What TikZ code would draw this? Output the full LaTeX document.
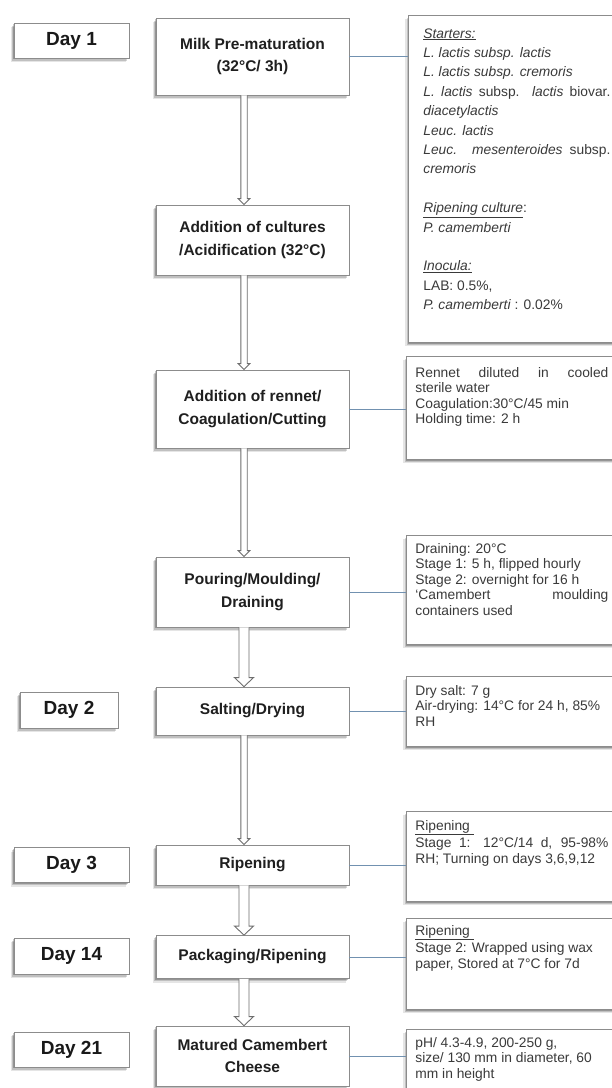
\documentclass[tikz,border=0pt]{standalone}
\usepackage{fontspec}
\setmainfont{Liberation Sans}
\usetikzlibrary{calc,shadows}

\definecolor{framegray}{HTML}{8C8C8C}
\definecolor{linkblue}{HTML}{7191B0}
\definecolor{notegray}{HTML}{3A3A3A}
\definecolor{arrowgray}{HTML}{6E6E6E}

% a line stretched to the full text width (justified line)
\newcommand{\jline}[1]{\makebox[\linewidth][s]{#1}}
% note text: box height, text width, top padding, lines
\newcommand{\notebody}[4]{\parbox[c][#1pt][t]{#2pt}{\vspace*{#3pt}#4}}
% x position of the hollow flow arrows
\def\arrowx{244pt}
% hollow arrow: from, to, half shaft width, head overhang, head length
\newcommand{\flowarrow}[5]{%
  \draw[arrowline] let \p1=(#1.south), \p2=(#2.north) in
    (\arrowx-#3,\y1) -- (\arrowx-#3,\y2+#5) -- (\arrowx-#3-#4,\y2+#5) -- (\arrowx,\y2)
    -- (\arrowx+#3+#4,\y2+#5) -- (\arrowx+#3,\y2+#5) -- (\arrowx+#3,\y1);}

\begin{document}
\begin{tikzpicture}[x=1pt,y=-1pt,
  softshadow/.style={
    general shadow={fill=black,opacity=.10,shadow xshift=-3pt,shadow yshift=-4pt},
    general shadow={fill=black,opacity=.16,shadow xshift=-1.8pt,shadow yshift=-2.7pt},
    general shadow={fill=black,opacity=.22,shadow xshift=-.8pt,shadow yshift=-1.4pt}},
  stepbox/.style={draw=framegray,line width=.8pt,fill=white,softshadow,
    text=black!88,font=\bfseries\fontsize{15.5}{22.5}\selectfont,align=center,
    minimum width=193pt,inner sep=2pt},
  daybox/.style={draw=framegray,line width=.8pt,fill=white,softshadow,
    text=black!90,font=\bfseries\fontsize{19}{22}\selectfont,
    minimum width=115pt,inner sep=2pt},
  notebox/.style={draw=framegray,line width=.8pt,fill=white,softshadow,
    anchor=north west,inner xsep=9pt,inner ysep=0pt,text=notegray,
    font=\fontsize{13.8}{15.5}\selectfont,align=left},
  connector/.style={draw=linkblue,line width=.9pt},
  arrowline/.style={draw=arrowgray,line width=.9pt,fill=white}]

\useasboundingbox (0,0) rectangle (612,1088);
\fill[white] (0,0) rectangle (612,1088);
\clip (0,0) rectangle (612,1088);

% day markers
\node[daybox,minimum height=35pt] (d1) at (71.5,40.5) {Day 1};
\node[daybox,minimum height=36pt,minimum width=98pt] (d2) at (69,710) {Day 2};
\node[daybox,minimum height=35pt] (d3) at (71.5,865) {Day 3};
\node[daybox,minimum height=36pt] (d14) at (71.5,956) {Day 14};
\node[daybox,minimum height=35pt] (d21) at (71.5,1049.5) {Day 21};

% process steps
\node[stepbox,minimum height=77pt] (milk) at (252.5,56.5) {Milk Pre-maturation\\(32°C/ 3h)};
\node[stepbox,minimum height=70pt] (cult) at (252.5,240) {Addition of cultures\\/Acidification (32°C)};
\node[stepbox,minimum height=78pt] (rennet) at (252.5,409) {Addition of rennet/\\Coagulation/Cutting};
\node[stepbox,minimum height=70pt] (pour) at (252.5,592) {Pouring/Moulding/\\Draining};
\node[stepbox,minimum height=48pt] (salt) at (252.5,711) {Salting/Drying};
\node[stepbox,minimum height=40pt] (ripe) at (252.5,865) {Ripening};
\node[stepbox,minimum height=43pt] (pack) at (252.5,957) {Packaging/Ripening};
\node[stepbox,minimum height=60pt] (cheese) at (252.5,1056) {Matured Camembert\\Cheese};

% notes
\node[notebox,inner xsep=15pt,font=\fontsize{13.8}{19.4}\selectfont] (n1) at (408,15) {\notebody{327}{187}{13}{%
\underline{\textit{Starters:}}\\
\textit{L. lactis subsp. lactis}\\
\textit{L. lactis subsp. cremoris}\\
\jline{\textit{L. lactis} subsp. \textit{lactis} biovar.}\\
\textit{diacetylactis}\\
\textit{Leuc. lactis}\\
\jline{\textit{Leuc. mesenteroides} subsp.}\\
\textit{cremoris}\\[19.4pt]
\underline{\textit{Ripening culture}}:\\
\textit{P. camemberti}\\[19.4pt]
\underline{\textit{Inocula:}}\\
LAB: 0.5\%,\\
\textit{P. camemberti} : 0.02\%}};

\node[notebox] (n2) at (406,356) {\notebody{103}{193}{11}{%
\jline{Rennet diluted in cooled}\\
sterile water\\
Coagulation:30°C/45 min\\
Holding time: 2 h}};

\node[notebox] (n3) at (406,535) {\notebody{109}{193}{8}{%
Draining: 20°C\\
Stage 1: 5 h, flipped hourly\\
Stage 2: overnight for 16 h\\
\jline{‘Camembert moulding}\\
containers used}};

\node[notebox] (n4) at (406,676) {\notebody{70}{193}{9}{%
Dry salt: 7 g\\
Air-drying: 14°C for 24 h, 85\%\\
RH}};

\node[notebox] (n5) at (406,811) {\notebody{90}{193}{9}{%
\underline{Ripening\ }\\[2pt]
\jline{Stage 1: 12°C/14 d, 95-98\%}\\
RH; Turning on days 3,6,9,12}};

\node[notebox] (n6) at (406,918) {\notebody{91}{193}{7}{%
\underline{Ripening\ }\\[2pt]
Stage 2: Wrapped using wax\\
paper, Stored at 7°C for 7d}};

\node[notebox] (n7) at (406,1029) {\notebody{80}{193}{8}{%
pH/ 4.3-4.9, 200-250 g,\\
size/ 130 mm in diameter, 60\\
mm in height}};

% links from steps to notes
\draw[connector] (milk.east) -- (milk.east -| n1.west);
\draw[connector] (rennet.east) -- (rennet.east -| n2.west);
\draw[connector] (pour.east) -- (pour.east -| n3.west);
\draw[connector] (salt.east) -- (salt.east -| n4.west);
\draw[connector] (ripe.east) -- (ripe.east -| n5.west);
\draw[connector] (pack.east) -- (pack.east -| n6.west);
\draw[connector] (cheese.east) -- (cheese.east -| n7.west);

% flow arrows
\flowarrow{milk}{cult}{3.2pt}{2.6pt}{6pt}
\flowarrow{cult}{rennet}{3.2pt}{2.6pt}{6pt}
\flowarrow{rennet}{pour}{3.2pt}{2.6pt}{6pt}
\flowarrow{pour}{salt}{5pt}{4.5pt}{9pt}
\flowarrow{salt}{ripe}{3.2pt}{2.6pt}{6pt}
\flowarrow{ripe}{pack}{5pt}{4.5pt}{9pt}
\flowarrow{pack}{cheese}{5pt}{4.5pt}{9pt}
\end{tikzpicture}
\end{document}
